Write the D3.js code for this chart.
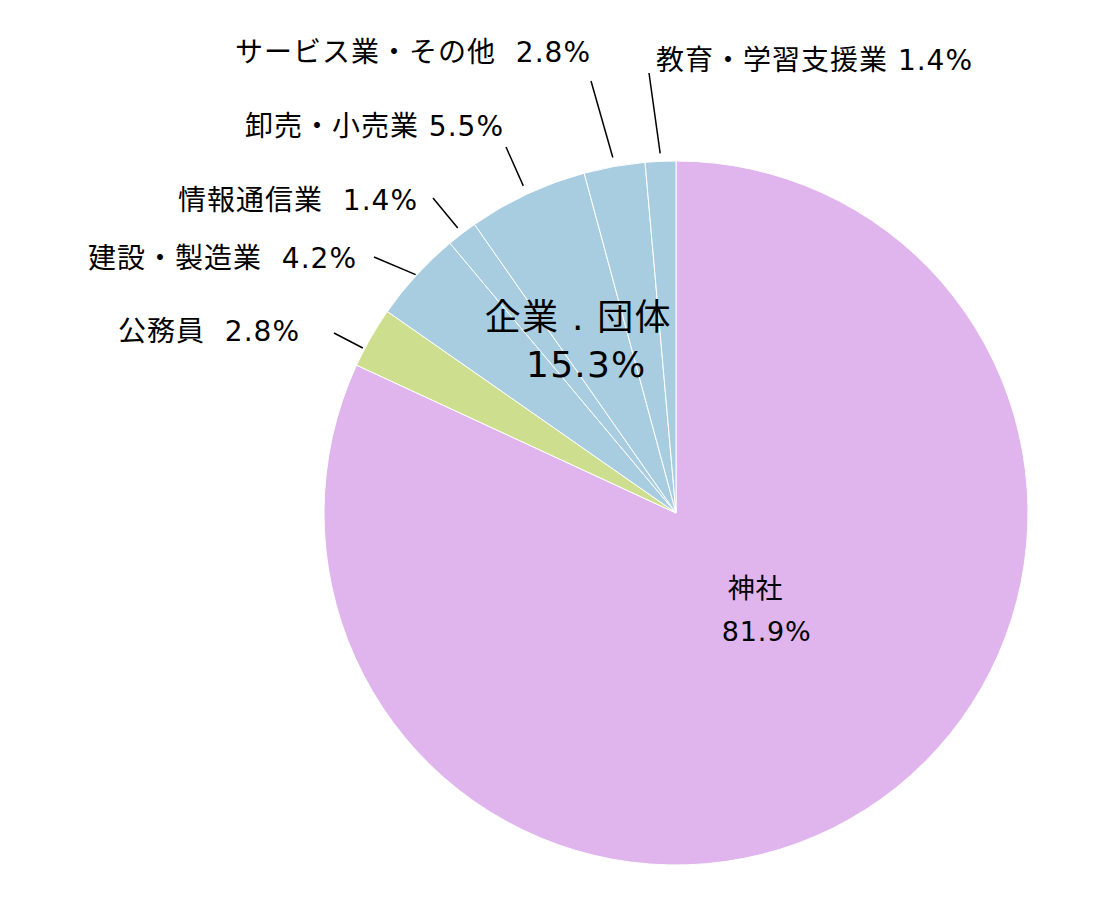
<!DOCTYPE html>
<html>
<head>
<meta charset="utf-8">
<script src="https://cdn.jsdelivr.net/npm/d3@7"></script>
<style>
  html, body { margin: 0; background: #fff; }
  svg text { font-family: "DejaVu Sans", "Noto Sans CJK JP", sans-serif; white-space: pre; fill: #000; }
</style>
</head>
<body>
<svg id="chart" width="1120" height="900"></svg>
<script>
/* ── data ─────────────────────────────────────────────────────── */
const categories = ["神社", "公務員", "建設・製造業", "情報通信業", "卸売・小売業", "サービス業・その他", "教育・学習支援業"];
const shares     = [81.9, 2.8, 4.2, 1.4, 5.5, 2.8, 1.4];
const groupOf    = ["shrine", "public", "company", "company", "company", "company", "company"];
const groupTitle = ["企業 . 団体"];
const groupShare = [15.3];

/* ── layout ───────────────────────────────────────────────────── */
const W = 1120, H = 900;
const CX = 676, CY = 513, R = 352;

const COLOR = {
  shrine:  "#e0b4ec",
  public:  "#cddf8e",
  company: "#a8cde1",
};

// outside labels: [gap, anchor, text dx, text dy, leader end dx, leader end dy, leader radius, angle nudge (deg)]
const outside = {
  1: ["  ", "end",   -376, -172, -342, -180, 354, -2.1],
  2: ["  ", "end",   -319, -245, -302, -256, 353,  0],
  3: ["  ", "end",   -258, -303, -243, -315, 359,  0],
  4: [" ",  "end",   -172, -377, -170, -366, 361,  0],
  5: ["  ", "end",    -85, -451,  -85, -432, 361,  0],
  6: [" ",  "start",  -20, -443,  -27, -440, 360,  0],
};

const svg = d3.select("#chart");
const g = svg.append("g").attr("transform", `translate(${CX},${CY})`);

const pie = d3.pie().sort(null).value(d => d)(shares);
const arc = d3.arc().innerRadius(0).outerRadius(R);

function leaderStart(d, i) {
  const r = outside[i][6];
  const a = (d.startAngle + d.endAngle) / 2 + outside[i][7] * Math.PI / 180;
  return [r * Math.sin(a), -r * Math.cos(a)];
}

// slices
g.selectAll("path.slice")
  .data(pie)
  .join("path")
    .attr("class", "slice")
    .attr("d", arc)
    .attr("fill", (d, i) => COLOR[groupOf[i]])
    .attr("stroke", "#fff")
    .attr("stroke-width", 1);

// leader lines + outside labels
const outs = pie.map((d, i) => ({ d, i })).filter(o => outside[o.i]);

g.selectAll("line.leader")
  .data(outs)
  .join("line")
    .attr("class", "leader")
    .attr("x1", o => outside[o.i][4])
    .attr("y1", o => outside[o.i][5])
    .attr("x2", o => leaderStart(o.d, o.i)[0])
    .attr("y2", o => leaderStart(o.d, o.i)[1])
    .attr("stroke", "#000")
    .attr("stroke-width", 1.5);

g.selectAll("text.out")
  .data(outs)
  .join("text")
    .attr("class", "out")
    .attr("x", o => outside[o.i][2])
    .attr("y", o => outside[o.i][3])
    .attr("text-anchor", o => outside[o.i][1])
    .attr("font-size", 28)
    .attr("letter-spacing", 1)
    .text(o => categories[o.i] + outside[o.i][0] + shares[o.i].toFixed(1) + "%");

// grouped label for the company slices
const compIdx = groupOf.map((k, i) => i).filter(i => groupOf[i] === "company");
const compArc = {
  startAngle: pie[compIdx[0]].startAngle,
  endAngle:   pie[compIdx[compIdx.length - 1]].endAngle,
};
const cc = d3.arc().innerRadius(0).outerRadius(384).centroid(compArc);
const big = g.append("text").attr("font-size", 36).attr("letter-spacing", 1.2).attr("text-anchor", "middle");
big.append("tspan").attr("x", cc[0] - 9).attr("y", cc[1] - 13).text(groupTitle[0]);
big.append("tspan").attr("x", cc[0] - 1).attr("y", cc[1] + 34).text(groupShare[0].toFixed(1) + "%");

// shrine label inside its slice
const sc = d3.arc().innerRadius(0).outerRadius(266).centroid(pie[0]);
const sl = g.append("text").attr("font-size", 27).attr("letter-spacing", 0.8).attr("text-anchor", "middle");
sl.append("tspan").attr("x", sc[0] + 8).attr("y", sc[1] - 27).text(categories[0]);
sl.append("tspan").attr("x", sc[0] + 19).attr("y", sc[1] + 16).text(shares[0].toFixed(1) + "%");
</script>
</body>
</html>
